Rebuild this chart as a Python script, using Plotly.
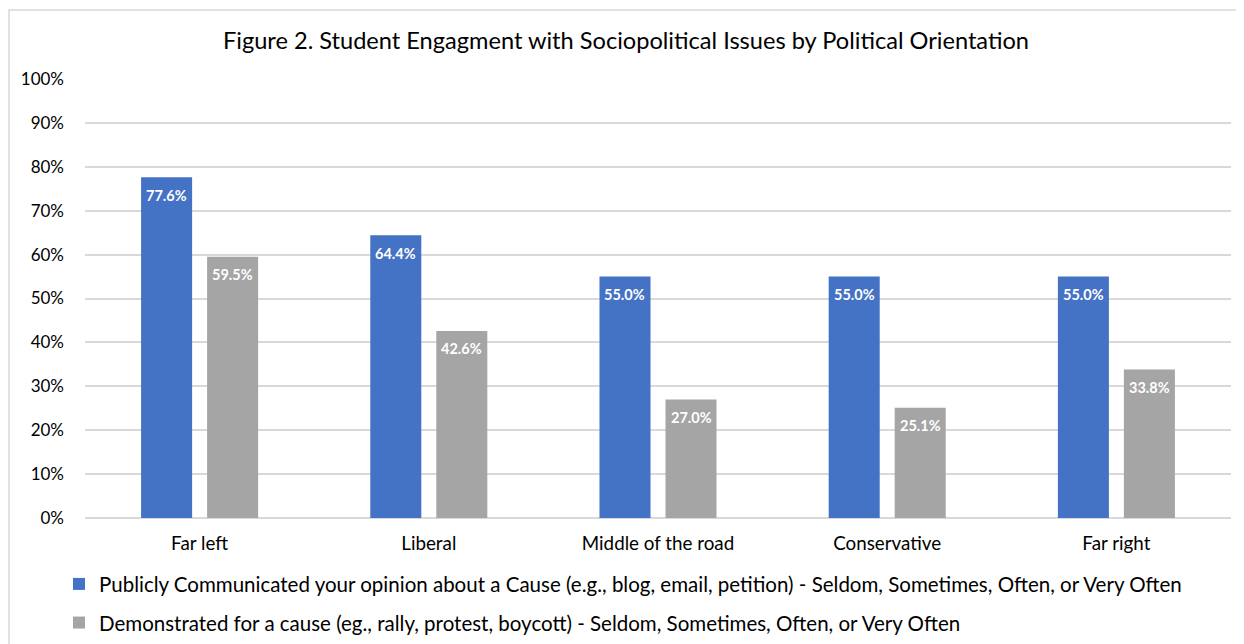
import plotly.graph_objects as go

categories = ["Far left", "Liberal", "Middle of the road", "Conservative", "Far right"]
series_names = [
    "Publicly Communicated your opinion about a Cause (e.g., blog, email, petition) - Seldom, Sometimes, Often, or Very Often",
    "Demonstrated for a cause (eg., rally, protest, boycott) - Seldom, Sometimes, Often, or Very Often",
]
communicated = [77.6, 64.4, 55.0, 55.0, 55.0]
demonstrated = [59.5, 42.6, 27.0, 25.1, 33.8]
colors = ["#4472C4", "#A5A5A5"]
y_ticks = list(range(0, 101, 10))

FONT = "Lato, 'Open Sans', sans-serif"
OFF = 8  # page body margin of the html page
W, H = 1244 - OFF, 644 - OFF
ML, MR, MT, MB = 85 - OFF, 13, 79 - OFF, 126
BARGAP, BARGROUPGAP = 0.424, 0.227
plot_w = W - ML - MR
plot_h = H - MT - MB
plot_left_page = ML + OFF
plot_bottom_page = MT + OFF + plot_h

fig = go.Figure()
all_vals = [communicated, demonstrated]
for i, (name, vals) in enumerate(zip(series_names, all_vals)):
    fig.add_trace(go.Bar(
        x=categories, y=vals, name=name,
        marker=dict(color=colors[i], line=dict(width=0)),
        legendgroup=f"g{i}",
        hoverinfo="x+y",
    ))

# data labels inside bar tops
slot = plot_w / len(categories) * (1 - BARGAP) / 2
for i, vals in enumerate(all_vals):
    shift = (i - 0.5) * slot
    for c, v in zip(categories, vals):
        fig.add_annotation(x=c, y=v, xref="x", yref="y", text=f"{v:.1f}%",
                           showarrow=False, xshift=shift, yshift=-18, yanchor="middle",
                           font=dict(color="white", size=14.5, family=FONT, weight="bold"))

fig.update_layout(
    width=W, height=H,
    paper_bgcolor="white", plot_bgcolor="white",
    margin=dict(l=ML, r=MR, t=MT, b=MB, autoexpand=False),
    barmode="group", bargap=BARGAP, bargroupgap=BARGROUPGAP,
    title=dict(text="Figure 2. Student Engagment with Sociopolitical Issues by Political Orientation",
               x=0.5, xanchor="center", y=1 - 33 / H, yanchor="middle",
               font=dict(family=FONT, size=23.6, color="#000000")),
    font=dict(family=FONT, color="#000000"),
    showlegend=True,
    legend=dict(orientation="v", x=(59 - plot_left_page) / plot_w, xanchor="left",
                y=-0.105, yanchor="top",
                font=dict(size=20.5, family=FONT, color="#000000"),
                tracegroupgap=9, bgcolor="rgba(0,0,0,0)"),
)
fig.update_yaxes(range=[0, 100], tickvals=y_ticks, ticktext=[f"{t}%" for t in y_ticks],
                 showgrid=True, gridcolor="#D9D9D9", gridwidth=1.5,
                 zeroline=True, zerolinecolor="#D9D9D9", zerolinewidth=1.5,
                 tickfont=dict(size=17, family=FONT), ticks="", ticklabelstandoff=20,
                 fixedrange=True, automargin=False)
fig.update_xaxes(showgrid=False, showline=False, ticks="",
                 tickfont=dict(size=18.8, family=FONT), ticklabelstandoff=12,
                 fixedrange=True, automargin=False)

fig.add_shape(type="rect", xref="paper", yref="paper",
              x0=(9 - plot_left_page) / plot_w, x1=(1240 - plot_left_page) / plot_w,
              y0=(plot_bottom_page - 660) / plot_h, y1=(plot_bottom_page - 10) / plot_h,
              line=dict(color="#D9D9D9", width=1.5), fillcolor="rgba(0,0,0,0)", layer="below")

fig.write_html("out.html")
